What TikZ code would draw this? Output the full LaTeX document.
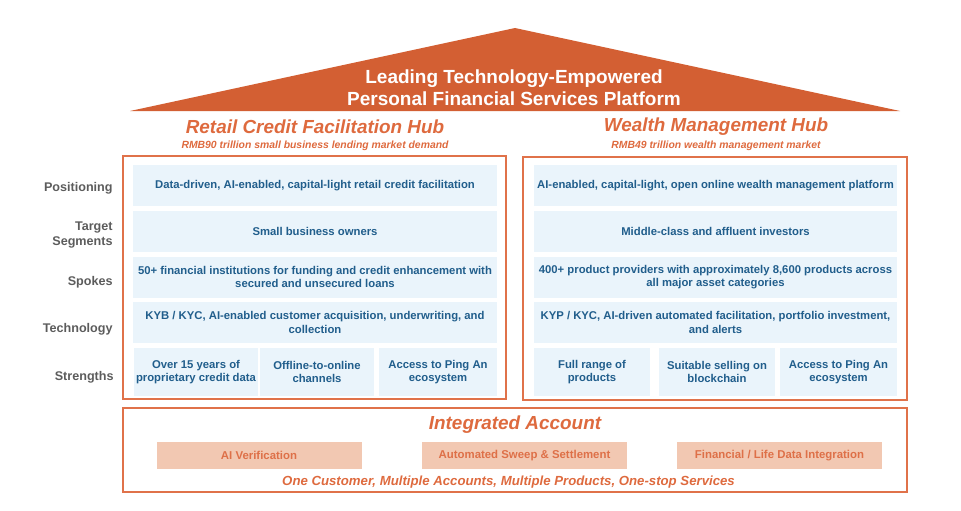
\documentclass[tikz,border=0pt]{standalone}
\usepackage{fontspec}
\setmainfont{Liberation Sans}
\usepackage{xcolor}
\definecolor{roofOrange}{RGB}{211, 95, 51}
\definecolor{hubOrange}{RGB}{222, 106, 62}
\definecolor{frameOrange}{RGB}{224, 114, 74}
\definecolor{paleBlue}{RGB}{234, 244, 251}
\definecolor{hubBlue}{RGB}{33, 94, 140}
\definecolor{labelGray}{RGB}{92, 92, 92}
\definecolor{salmonFill}{RGB}{242, 200, 178}
\definecolor{salmonText}{RGB}{222, 112, 72}
\usepackage{tikz}
\usetikzlibrary{positioning}

\tikzset{
  hubFrame/.style={draw=frameOrange, line width=1.8pt, minimum width=#1},
  rowBox/.style={fill=paleBlue, text=hubBlue, inner sep=1pt, align=center,
    font=\fontsize{11.3}{13.5}\selectfont\bfseries, minimum height=41pt, minimum width=#1},
  strengthBox/.style={rowBox=#1, minimum height=48pt},
  rowLabel/.style={text=labelGray, inner sep=0pt, align=right,
    font=\fontsize{12.6}{15}\selectfont\bfseries},
  hubTitle/.style={text=hubOrange, font=\fontsize{18.9}{21}\selectfont\bfseries\itshape},
  hubNote/.style={text=hubOrange, font=\fontsize{10.4}{12}\selectfont\bfseries\itshape},
  featureBox/.style={fill=salmonFill, text=salmonText, minimum width=205pt, minimum height=27pt,
    font=\fontsize{11.4}{13}\selectfont\bfseries},
}

\begin{document}
\begin{tikzpicture}[x=1pt, y=-1pt]
\useasboundingbox (0,0) rectangle (961,511);

% roof
\fill[roofOrange] (130,111) -- (515,28) -- (900,111) -- cycle;
\node[text=white, align=center, font=\fontsize{19}{22}\selectfont\bfseries] (platform) at (514,87.5)
  {Leading Technology-Empowered\\Personal Financial Services Platform};

% hub titles
\node[hubTitle] (retailTitle) at (315,127) {Retail Credit Facilitation Hub};
\node[hubNote] (retailNote) at (315,146) {RMB90 trillion small business lending market demand};
\node[hubTitle] (wealthTitle) at (716,127) {Wealth Management Hub};
\node[hubNote] (wealthNote) at (716,146) {RMB49 trillion wealth management market};

% frames
\node[hubFrame=383pt, minimum height=243pt] (retailHub) at (314.5,277.5) {};
\node[hubFrame=384pt, minimum height=243pt] (wealthHub) at (715,278.5) {};
\node[hubFrame=784pt, minimum height=84pt] (account) at (515,450) {};

% retail credit rows
\node[rowBox=364pt] (rcPos) at (315,185.5) {Data-driven, AI-enabled, capital-light retail credit facilitation};
\node[rowBox=364pt] (rcSeg) at (315,231.5) {Small business owners};
\node[rowBox=364pt] (rcSpk) at (315,277) {50+ financial institutions for funding and credit enhancement with\\secured and unsecured loans};
\node[rowBox=364pt] (rcTec) at (315,322.5) {KYB / KYC, AI-enabled customer acquisition, underwriting, and\\collection};
\node[strengthBox=124pt] (rcStrA) at (196,372) {Over 15 years of\\proprietary credit data};
\node[strengthBox=114pt] (rcStrB) at (317,372) {Offline-to-online\\channels};
\node[strengthBox=118pt] (rcStrC) at (438,372) {Access to Ping An\\ecosystem};

% wealth management rows
\node[rowBox=363pt] (wmPos) at (715.5,185.5) {AI-enabled, capital-light, open online wealth management platform};
\node[rowBox=363pt] (wmSeg) at (715.5,231.5) {Middle-class and affluent investors};
\node[rowBox=363pt] (wmSpk) at (715.5,277) {400+ product providers with approximately 8,600 products across\\all major asset categories};
\node[rowBox=363pt] (wmTec) at (715.5,322.5) {KYP / KYC, AI-driven automated facilitation, portfolio investment,\\and alerts};
\node[strengthBox=116pt] (wmStrA) at (592,372) {Full range of\\products};
\node[strengthBox=116pt] (wmStrB) at (717,372) {Suitable selling on\\blockchain};
\node[strengthBox=117pt] (wmStrC) at (838.5,372) {Access to Ping An\\ecosystem};

% row labels
\node[rowLabel, left=20pt of rcPos, yshift=-3pt] (lblPos) {Positioning};
\node[rowLabel, left=20pt of rcSeg, yshift=-3pt] (lblSeg) {Target\\Segments};
\node[rowLabel, left=20pt of rcSpk, yshift=-5.5pt] (lblSpk) {Spokes};
\node[rowLabel, left=20pt of rcTec, yshift=-6.5pt] (lblTec) {Technology};
\node[rowLabel, left=20pt of rcStrA, yshift=-5pt] (lblStr) {Strengths};

% integrated account
\node[hubTitle] (accountTitle) at (515,425) {Integrated Account};
\node[featureBox] (aiVerify) at (259,455.5) {AI Verification};
\node[featureBox] (sweep) at (524.5,455.5) {Automated Sweep \& Settlement};
\node[featureBox] (lifeData) at (779.5,455.5) {Financial / Life Data Integration};
\node[text=hubOrange, font=\fontsize{13.2}{15}\selectfont\bfseries\itshape] (accountNote) at (508.5,482)
  {One Customer, Multiple Accounts, Multiple Products, One-stop Services};
\end{tikzpicture}
\end{document}
